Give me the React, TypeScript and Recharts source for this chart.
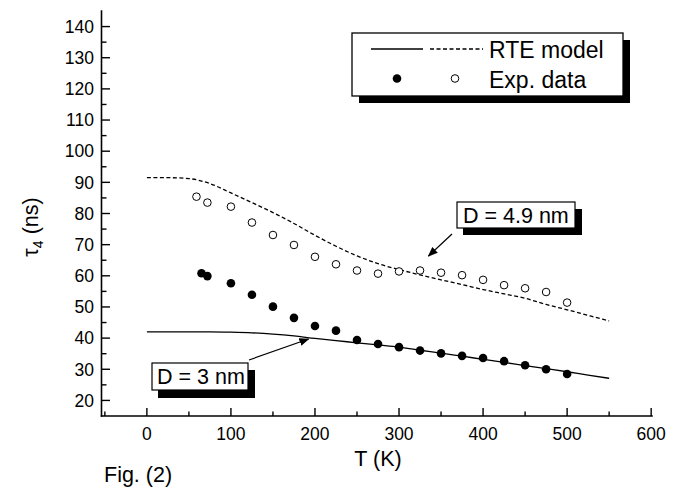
import React from "react";
import { ComposedChart, Line, Scatter, XAxis, YAxis } from "recharts";

const FONT = "'Liberation Sans', Arial, Helvetica, sans-serif";

// RTE model, tau_4 vs T
const modelT = [0, 25, 50, 75, 100, 125, 150, 175, 200, 225, 250, 275, 300, 325, 350, 375, 400, 425, 450, 475, 500, 525, 550];
const model3nm = [42, 42, 42, 42, 41.9, 41.7, 41.3, 40.7, 39.9, 39.2, 38.5, 37.8, 37.1, 36.1, 35.2, 34.2, 33.2, 32.2, 31.2, 30.2, 29.2, 28.1, 27.1];
const model49nm = [91.5, 91.5, 91.2, 89.6, 86.6, 83.5, 80.3, 76.8, 73, 69.5, 66.4, 63.9, 62, 60.3, 58.7, 57.2, 55.6, 54.2, 52.8, 50.8, 49.1, 47.3, 45.5];

// experimental points
const exp3nmT = [65, 72, 100, 125, 150, 175, 200, 225, 250, 275, 300, 325, 350, 375, 400, 425, 450, 475, 500];
const exp3nm = [60.8, 59.9, 57.6, 53.9, 50.1, 46.5, 43.9, 42.4, 39.4, 38.1, 37.1, 36.0, 35.1, 34.3, 33.6, 32.6, 31.3, 30.0, 28.5];
const exp49nmT = [59, 72, 100, 125, 150, 175, 200, 225, 250, 275, 300, 325, 350, 375, 400, 425, 450, 475, 500];
const exp49nm = [85.4, 83.5, 82.2, 77.1, 73.1, 69.9, 66.1, 63.7, 61.7, 60.7, 61.4, 61.7, 61.0, 60.2, 58.7, 57.0, 56.0, 54.8, 51.4];

const xTicks = [-50, 0, 50, 100, 150, 200, 250, 300, 350, 400, 450, 500, 550, 600];
const yTicks = [20, 25, 30, 35, 40, 45, 50, 55, 60, 65, 70, 75, 80, 85, 90, 95, 100, 105, 110, 115, 120, 125, 130, 135, 140];

const curve3 = modelT.map((t, i) => ({ t, tau: model3nm[i] }));
const curve49 = modelT.map((t, i) => ({ t, tau: model49nm[i] }));
const pts3 = exp3nmT.map((t, i) => ({ t, tau: exp3nm[i] }));
const pts49 = exp49nmT.map((t, i) => ({ t, tau: exp49nm[i] }));

const AX = { stroke: "#000", strokeWidth: 1.6, strokeLinecap: "square" as const };

function BottomTick({ x, y, payload }: any) {
  const major = payload.value % 100 === 0;
  return (
    <g>
      <line x1={x} x2={x} y1={y} y2={y - (major ? 8 : 4.5)} stroke="#000" strokeWidth={1.4} />
      {major && (
        <text x={x} y={y + 24} textAnchor="middle" fontFamily={FONT} fontSize={17.5} fill="#000">
          {payload.value}
        </text>
      )}
    </g>
  );
}

function TopTick({ x, y, payload }: any) {
  const major = payload.value % 100 === 0;
  return <line x1={x} x2={x} y1={y} y2={y + (major ? 8 : 4.5)} stroke="#000" strokeWidth={1.4} />;
}

function LeftTick({ x, y, payload }: any) {
  const major = payload.value % 10 === 0;
  return (
    <g>
      <line x1={x} x2={x + (major ? 8.5 : 5)} y1={y} y2={y} stroke="#000" strokeWidth={1.4} />
      {major && (
        <text x={x - 7.5} y={y + 6.3} textAnchor="end" fontFamily={FONT} fontSize={17.5} fill="#000">
          {payload.value}
        </text>
      )}
    </g>
  );
}

function RightTick({ x, y, payload }: any) {
  const major = payload.value % 10 === 0;
  return <line x1={x} x2={x - (major ? 8.5 : 5)} y1={y} y2={y} stroke="#000" strokeWidth={1.4} />;
}

const FilledDot = (p: any) => <circle cx={p.cx} cy={p.cy} r={4.3} fill="#000" />;
const OpenDot = (p: any) => <circle cx={p.cx} cy={p.cy} r={3.8} fill="#fff" stroke="#000" strokeWidth={1} />;

function Overlay() {
  const t = { fontFamily: FONT, fill: "#000" };
  return (
    <svg width={675} height={492} style={{ position: "absolute", left: 0, top: 0, pointerEvents: "none" }}>
      <defs>
        <marker id="arr" markerWidth="10" markerHeight="8" refX="9" refY="4" orient="auto" markerUnits="userSpaceOnUse">
          <path d="M0,0 L10,4 L0,8 Z" fill="#000" />
        </marker>
      </defs>

      {/* legend */}
      <rect x={359} y={40} width={271} height={63} fill="#000" />
      <rect x={352} y={33} width={271} height={63} fill="#fff" stroke="#000" strokeWidth={1.3} />
      <line x1={371} x2={423} y1={49} y2={49} stroke="#000" strokeWidth={1.3} />
      <line x1={430} x2={483} y1={49} y2={49} stroke="#000" strokeWidth={1.3} strokeDasharray="4 2.5" />
      <text x={489} y={58} fontSize={23} {...t}>RTE model</text>
      <circle cx={397} cy={78.5} r={4.3} fill="#000" />
      <circle cx={455} cy={78.5} r={3.8} fill="#fff" stroke="#000" strokeWidth={1} />
      <text x={489} y={88} fontSize={23} {...t}>Exp. data</text>

      {/* D = 4.9 nm */}
      <rect x={463} y={209} width={119} height={26} fill="#000" />
      <rect x={457} y={202} width={118} height={26} fill="#fff" stroke="#000" strokeWidth={1.2} />
      <text x={463} y={223} fontSize={21.5} {...t}>D = 4.9 nm</text>
      <line x1={452} y1={234} x2={428.5} y2={256} stroke="#000" strokeWidth={1.2} markerEnd="url(#arr)" />

      {/* D = 3 nm */}
      <rect x={158} y={370} width={97} height={28} fill="#000" />
      <rect x={152} y={363} width={96} height={27} fill="#fff" stroke="#000" strokeWidth={1.2} />
      <text x={157} y={384} fontSize={21.5} {...t}>D = 3 nm</text>
      <line x1={249} y1={360} x2={308.5} y2={339} stroke="#000" strokeWidth={1.2} markerEnd="url(#arr)" />

      {/* axis titles */}
      <text x={378} y={466} textAnchor="middle" fontSize={21.5} {...t}>T (K)</text>
      <text transform="translate(38,227) rotate(-90)" textAnchor="middle" fontSize={21.5} {...t}>
        <tspan>τ</tspan>
        <tspan dy={5} fontSize={14}>4</tspan>
        <tspan dy={-5}> (ns)</tspan>
      </text>
      <text x={104} y={482} fontSize={21.5} {...t}>Fig. (2)</text>
    </svg>
  );
}

export default function App() {
  return (
    <div style={{ position: "absolute", left: 0, top: 0, width: 675, height: 492, background: "#fff" }}>
      <ComposedChart width={675} height={492} margin={{ top: 11, right: 23, bottom: 46, left: 41.5 }}>
        <XAxis
          dataKey="t"
          type="number"
          domain={[-54, 601]}
          ticks={xTicks}
          interval={0}
          height={30}
          axisLine={AX}
          tickLine={false}
          tickSize={0}
          tickMargin={0}
          tick={(p: any) => <BottomTick {...p} />}
        />
        <XAxis
          xAxisId="top"
          orientation="top"
          dataKey="t"
          type="number"
          domain={[-54, 601]}
          ticks={xTicks}
          interval={0}
          height={0}
          axisLine={AX}
          tickLine={false}
          tickSize={0}
          tickMargin={0}
          tick={(p: any) => <TopTick {...p} />}
        />
        <YAxis
          type="number"
          domain={[15, 145]}
          ticks={yTicks}
          interval={0}
          width={60}
          axisLine={AX}
          tickLine={false}
          tickSize={0}
          tickMargin={0}
          tick={(p: any) => <LeftTick {...p} />}
        />
        <YAxis
          yAxisId="right"
          orientation="right"
          type="number"
          domain={[15, 145]}
          ticks={yTicks}
          interval={0}
          width={0}
          axisLine={AX}
          tickLine={false}
          tickSize={0}
          tickMargin={0}
          tick={(p: any) => <RightTick {...p} />}
        />
        <Line data={curve3} dataKey="tau" type="monotone" stroke="#000" strokeWidth={1.3} dot={false} isAnimationActive={false} />
        <Line data={curve49} dataKey="tau" type="monotone" stroke="#000" strokeWidth={1.3} strokeDasharray="4 2.5" dot={false} isAnimationActive={false} />
        <Scatter data={pts3} dataKey="tau" shape={FilledDot} isAnimationActive={false} />
        <Scatter data={pts49} dataKey="tau" shape={OpenDot} isAnimationActive={false} />
      </ComposedChart>
      <Overlay />
    </div>
  );
}
